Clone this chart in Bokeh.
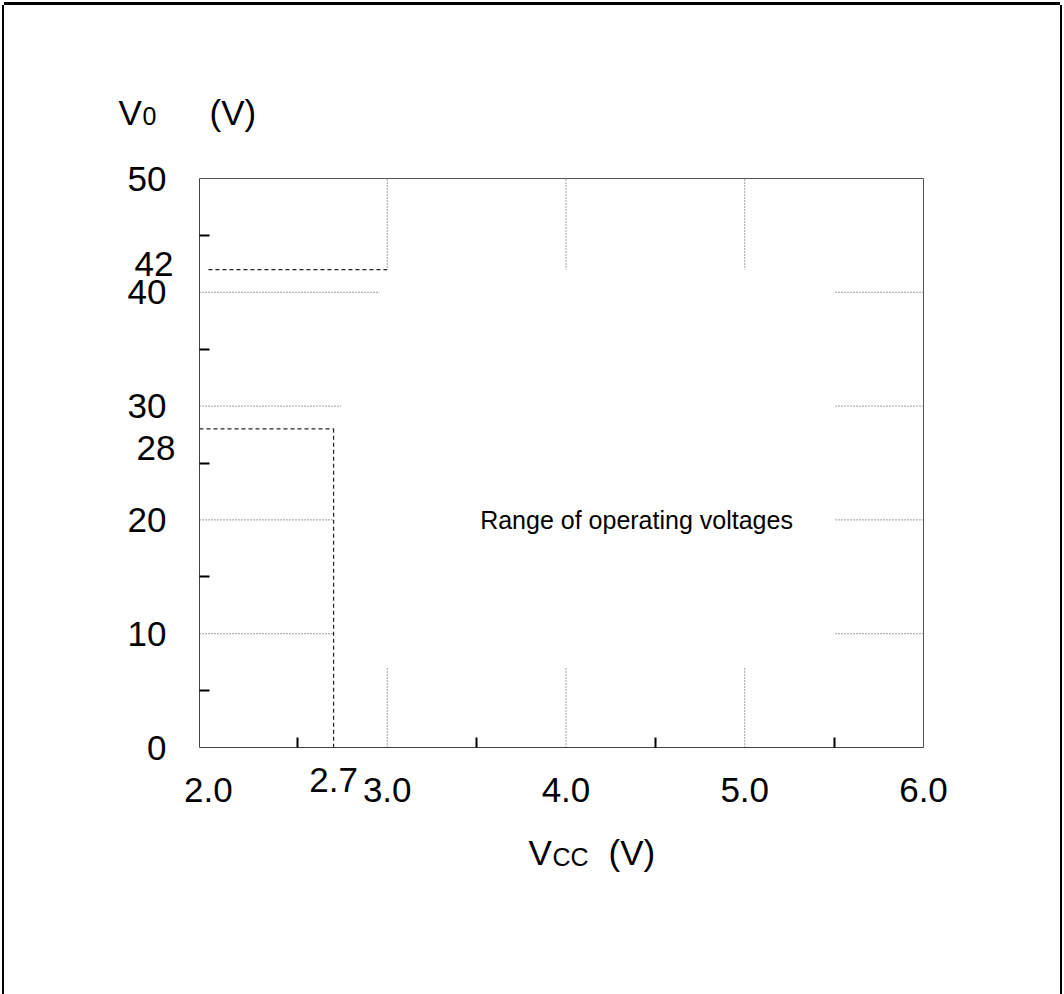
from bokeh.plotting import figure
from bokeh.models import FixedTicker, Label, Range1d, LinearAxis
from bokeh.embed import file_html
from bokeh.resources import INLINE

# ---------------- data ----------------
x_ticks = [2.0, 3.0, 4.0, 5.0, 6.0]
x_tick_labels = ["2.0", "3.0", "4.0", "5.0", "6.0"]
x_minor = [2.5, 3.5, 4.5, 5.5]
x_grid = [3.0, 4.0, 5.0]
y_ticks = [0, 10, 20, 30, 40, 50]
y_tick_labels = ["0", "10", "20", "30", "40", "50"]
y_minor = [5, 15, 25, 35, 45]
y_grid = [10, 20, 30, 40]

# operating range (Vcc, Vo)
region_vcc = [2.7, 2.7, 3.0, 5.5, 5.5]
region_vo = [7, 28, 42, 42, 7]
# limit markers
lim42_vcc = [2.0, 3.0]
lim42_vo = [42, 42]
lim28_vcc = [1.95, 2.7]
lim28_vo = [28, 28]
lim27_vcc = [2.7, 2.7]
lim27_vo = [28, 0]
extra_x_label = "2.7"
extra_y_labels = ["42", "28"]
extra_y_values = [42, 28]
region_text = "Range of operating voltages"

# ---------------- layout ----------------
FONT = "Liberation Sans"
X_LO, X_HI = 1.95, 6.0        # plot box in data units
Y_LO, Y_HI = 0, 50
W, H = 1056, 989               # canvas size
BOX_L, BOX_T = 195, 173        # plot box position on canvas (px)
BOX_W, BOX_H = 724, 569
sx = BOX_W / (X_HI - X_LO)
sy = BOX_H / (Y_HI - Y_LO)
x_range = Range1d(X_LO - BOX_L / sx, X_HI + (W - BOX_L - BOX_W) / sx)
y_range = Range1d(Y_LO - (H - BOX_T - BOX_H) / sy, Y_HI + BOX_T / sy)

p = figure(width=W, height=H, x_range=x_range, y_range=y_range,
           x_axis_location=None, y_axis_location=None, min_border=0,
           output_backend="svg", toolbar_location=None,
           background_fill_color="white", border_fill_color="white")
p.outline_line_color = None
p.grid.visible = False
p.styles = {"margin-left": "4px", "margin-top": "5px",
            "box-shadow": "-2px 0 0 0 black, 2px 0 0 0 black, 0 -3px 0 0 black"}

# dotted grid lines
p.segment(x0=x_grid, y0=[Y_LO] * len(x_grid), x1=x_grid, y1=[Y_HI] * len(x_grid),
          line_color="#444444", line_dash="1 2", line_width=1)
p.segment(x0=[X_LO] * len(y_grid), y0=y_grid, x1=[X_HI] * len(y_grid), y1=y_grid,
          line_color="#444444", line_dash="1 2", line_width=1)

# operating region (blank area covering grid)
p.patch(region_vcc, region_vo, fill_color="white", line_color=None)

# top / right frame of the plot box
p.line([X_LO, X_HI, X_HI], [Y_HI, Y_HI, Y_LO], line_color="#555555", line_width=1)

# limit lines
for xs, ys in ((lim42_vcc, lim42_vo), (lim28_vcc, lim28_vo), (lim27_vcc, lim27_vo)):
    p.line(xs, ys, line_color="#222222", line_width=1.2, line_dash="4 3")

# axes placed at the plot box edges
xaxis = LinearAxis(fixed_location=Y_LO, bounds=(X_LO, X_HI),
                   ticker=FixedTicker(ticks=x_ticks, minor_ticks=x_minor),
                   major_label_overrides=dict(zip(x_ticks, x_tick_labels)))
yaxis = LinearAxis(fixed_location=X_LO, bounds=(Y_LO, Y_HI),
                   ticker=FixedTicker(ticks=y_ticks, minor_ticks=y_minor),
                   major_label_overrides=dict(zip(y_ticks, y_tick_labels)))
for ax in (xaxis, yaxis):
    ax.major_tick_in = 0
    ax.major_tick_out = 0
    ax.minor_tick_in = 10
    ax.minor_tick_out = 0
    ax.minor_tick_line_color = "black"
    ax.minor_tick_line_width = 2
    ax.axis_line_color = "#444444"
    ax.axis_line_width = 1
    ax.major_label_text_font = FONT
    ax.major_label_text_font_size = "35px"
    ax.major_label_text_color = "black"
yaxis.major_label_standoff = 33
xaxis.major_label_standoff = 30
p.add_layout(xaxis, "below")
p.add_layout(yaxis, "left")

p.add_layout(Label(x=3.52, y=20, text=region_text, text_font=FONT,
                   text_font_size="25px", text_baseline="middle",
                   text_align="left", text_color="black"))

# extra tick labels
p.add_layout(Label(x=2.7, y=Y_LO, y_offset=-20, text=extra_x_label, text_font=FONT,
                   text_font_size="35px", text_align="center", text_baseline="top",
                   text_color="black"))
p.add_layout(Label(x=X_LO, y=extra_y_values[0], x_offset=-26, y_offset=6,
                   text=extra_y_labels[0], text_font=FONT, text_font_size="35px",
                   text_align="right", text_baseline="middle", text_color="black"))
p.add_layout(Label(x=X_LO, y=extra_y_values[1], x_offset=-24, y_offset=-19,
                   text=extra_y_labels[1], text_font=FONT, text_font_size="35px",
                   text_align="right", text_baseline="middle", text_color="black"))

# y axis title  V0 (V)
p.add_layout(Label(x=X_LO, y=Y_HI, x_offset=-81, y_offset=66, text="V",
                   text_font=FONT, text_font_size="35px", text_baseline="alphabetic",
                   text_color="black"))
p.add_layout(Label(x=X_LO, y=Y_HI, x_offset=-57, y_offset=63, text="0",
                   text_font=FONT, text_font_size="25px", text_baseline="alphabetic",
                   text_color="black"))
p.add_layout(Label(x=X_LO, y=Y_HI, x_offset=10, y_offset=66, text="(V)",
                   text_font=FONT, text_font_size="35px", text_baseline="alphabetic",
                   text_color="black"))

# x axis title  VCC (V)
p.add_layout(Label(x=X_LO, y=Y_LO, x_offset=329, y_offset=-105, text="V",
                   text_font=FONT, text_font_size="35px", text_baseline="alphabetic",
                   text_color="black"))
p.add_layout(Label(x=X_LO, y=Y_LO, x_offset=353, y_offset=-109, text="CC",
                   text_font=FONT, text_font_size="25px", text_baseline="alphabetic",
                   text_color="black"))
p.add_layout(Label(x=X_LO, y=Y_LO, x_offset=409, y_offset=-105, text="(V)",
                   text_font=FONT, text_font_size="35px", text_baseline="alphabetic",
                   text_color="black"))

open("out.html", "w").write(file_html(p, INLINE))
